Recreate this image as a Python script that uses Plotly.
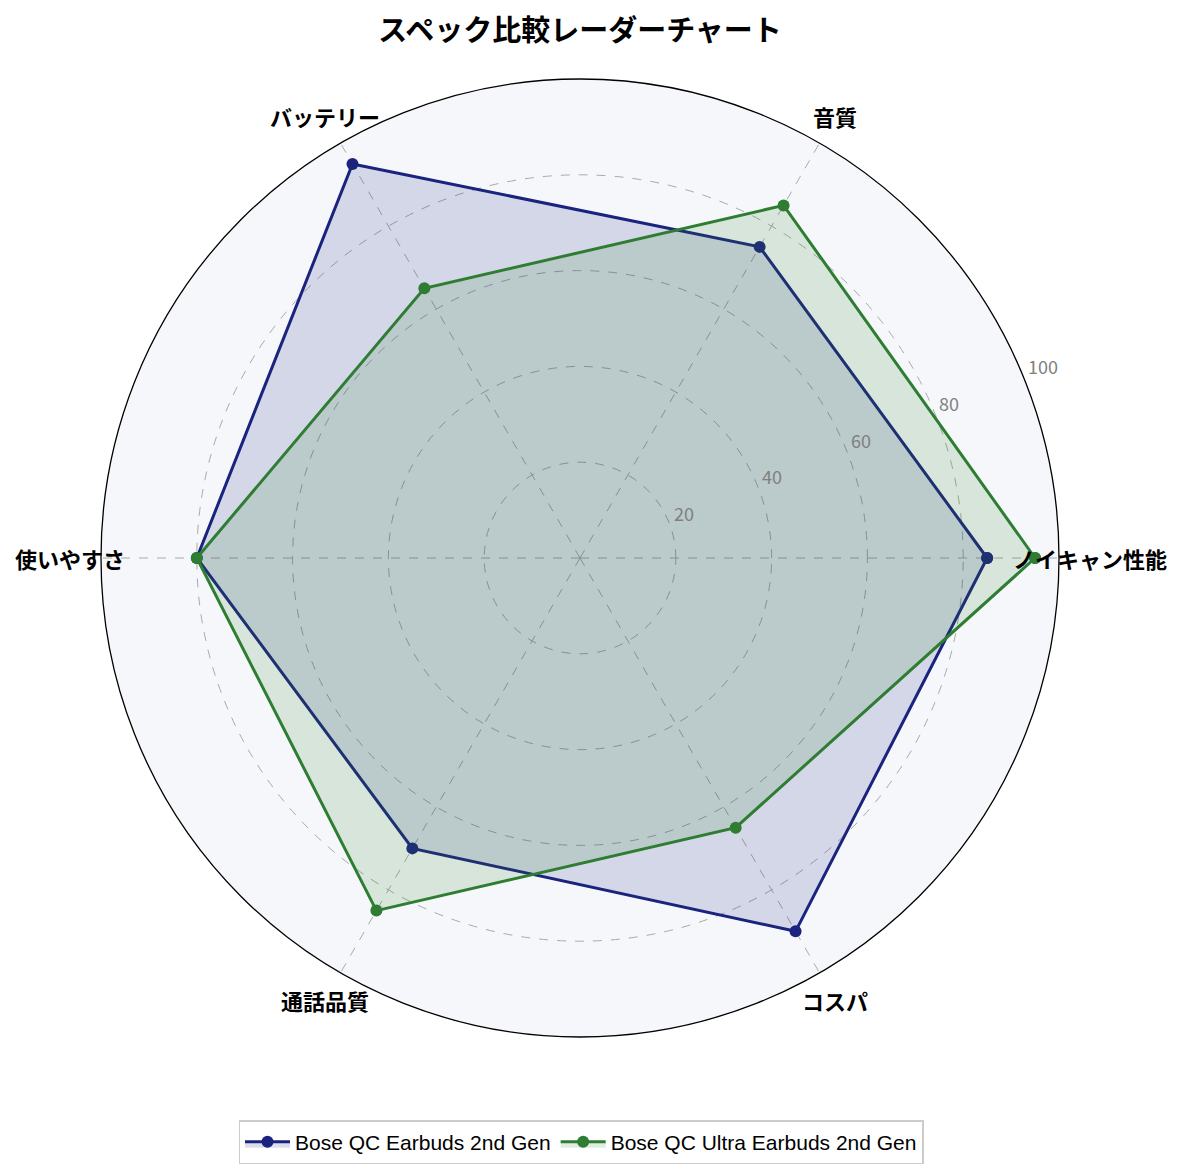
import math
import plotly.graph_objects as go

# data
categories = ["ノイキャン性能", "音質", "バッテリー", "使いやすさ", "通話品質", "コスパ"]
qc_earbuds = [85, 75, 95, 80, 70, 90]
qc_ultra = [95, 85, 65, 80, 85, 65]
series_names = ["Bose QC Earbuds 2nd Gen", "Bose QC Ultra Earbuds 2nd Gen"]
radial_ticks = [20, 40, 60, 80, 100]

W, H = 1184, 1174
OFF = 8  # page body margin
cx, cy, R = 580, 558, 479
rmax = 100


def px2x(px):
    return (px - OFF) / W


def py2y(py):
    return 1 - (py - OFF) / H


fig = go.Figure()

styles = [("#1a237e", "rgba(26,35,126,0.15)"), ("#2e7d32", "rgba(46,125,50,0.15)")]
for name, vals, (line_c, fill_c) in zip(series_names, [qc_earbuds, qc_ultra], styles):
    fig.add_trace(go.Scatterpolar(
        r=vals + vals[:1],
        theta=categories + categories[:1],
        mode="lines+markers",
        name=name,
        line=dict(color=line_c, width=3),
        marker=dict(color=line_c, size=12),
        fill="toself",
        fillcolor=fill_c,
    ))

# category labels just outside the circle (overlapping it like the original)
for i, cat in enumerate(categories):
    ang = math.radians(360 / len(categories) * i)
    fig.add_annotation(
        text=f"<b>{cat}</b>",
        x=px2x(cx + 1.065 * R * math.cos(ang)), y=py2y(cy - 1.065 * R * math.sin(ang)),
        xref="paper", yref="paper", xanchor="center", yanchor="middle", showarrow=False,
        font=dict(size=22, color="black", family="Noto Sans CJK JP"),
    )

# radial tick labels along 22.5 deg
ra = math.radians(22.5)
for v in radial_ticks:
    ax = cx + v / rmax * R * math.cos(ra)
    ay = cy - v / rmax * R * math.sin(ra)
    fig.add_annotation(
        text=str(v), x=px2x(ax + 3), y=py2y(ay - 8.5), xref="paper", yref="paper",
        xanchor="left", yanchor="middle", showarrow=False,
        font=dict(size=18, color="#808080", family="Noto Sans CJK JP"),
    )

fig.update_layout(
    width=W, height=H,
    margin=dict(l=0, r=0, t=0, b=0),
    paper_bgcolor="white",
    font=dict(family="Noto Sans CJK JP", color="black"),
    title=dict(text="<b>スペック比較レーダーチャート</b>", x=px2x(580), xanchor="center",
               y=py2y(31), yanchor="middle", font=dict(size=29)),
    polar=dict(
        domain=dict(x=[px2x(cx - R), px2x(cx + R)], y=[py2y(cy + R), py2y(cy - R)]),
        bgcolor="#f5f7fa",
        radialaxis=dict(
            range=[0, rmax], tickvals=radial_ticks, showticklabels=False,
            showline=False, ticks="",
            gridcolor="#aaaaaa", griddash="dash", gridwidth=1,
        ),
        angularaxis=dict(
            direction="counterclockwise", rotation=0, showticklabels=False,
            showline=True, linecolor="black", linewidth=1.3,
            gridcolor="#aaaaaa", griddash="dash", gridwidth=1, ticks="",
        ),
    ),
    legend=dict(
        orientation="h", x=px2x(581), xanchor="center", y=py2y(1142), yanchor="middle",
        bordercolor="#cccccc", borderwidth=1.5, itemwidth=45,
        font=dict(size=21, family="Liberation Sans"),
    ),
)

fig.write_html("out.html")
